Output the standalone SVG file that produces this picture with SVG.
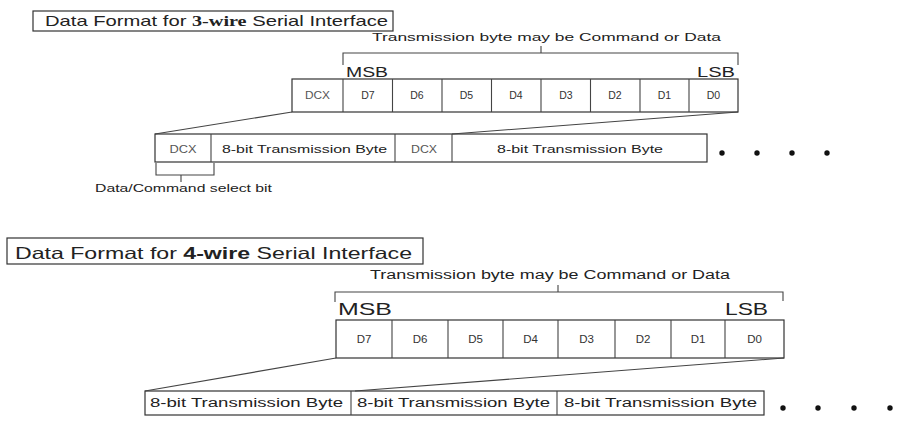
<svg xmlns="http://www.w3.org/2000/svg" width="908" height="423" viewBox="0 0 908 423">
<style>
text{font-family:"Liberation Sans",Arial,sans-serif;fill:#222}
.box{fill:#fff;stroke:#333;stroke-width:1.2}
.ln{fill:none;stroke:#444;stroke-width:1.1}
.c1{font-size:10.5px;text-anchor:middle;fill:#333}
.c1g{font-size:10px;text-anchor:middle;fill:#555}
.c2{font-size:11.5px;text-anchor:middle;fill:#333}
.dot{fill:#111}
</style>
<rect width="908" height="423" fill="#fff"/>

<!-- Section 1: 3-wire -->
<g id="title3">
<rect class="box" x="33" y="11" width="360" height="20"/>
<text x="45" y="26" font-size="14.5" textLength="343" lengthAdjust="spacingAndGlyphs">Data Format for <tspan font-family="'Liberation Serif','Times New Roman',serif" font-weight="bold">3-wire</tspan> Serial Interface</text>
</g>
<g id="brace3">
<text x="372" y="41" font-size="11.5" textLength="349" lengthAdjust="spacingAndGlyphs">Transmission byte may be Command or Data</text>
<path class="ln" d="M343,65 V53 H738 V65 M541,53 V46"/>
<text x="346" y="77" font-size="15" textLength="42" lengthAdjust="spacingAndGlyphs">MSB</text>
<text x="697" y="77" font-size="15" textLength="38" lengthAdjust="spacingAndGlyphs">LSB</text>
</g>
<g id="byte3">
<rect class="box" x="292" y="79" width="446" height="33"/>
<path class="ln" d="M343,79V112 M392.5,79V112 M442,79V112 M491.5,79V112 M541,79V112 M590.5,79V112 M640,79V112 M689,79V112"/>
<text class="c1g" x="317.5" y="99" textLength="25" lengthAdjust="spacingAndGlyphs">DCX</text>
<text class="c1" x="368" y="99">D7</text>
<text class="c1" x="417" y="99">D6</text>
<text class="c1" x="466.5" y="99">D5</text>
<text class="c1" x="516" y="99">D4</text>
<text class="c1" x="566" y="99">D3</text>
<text class="c1" x="615" y="99">D2</text>
<text class="c1" x="664.5" y="99">D1</text>
<text class="c1" x="713.5" y="99">D0</text>
</g>
<g id="stream3">
<rect class="box" x="155" y="134" width="552" height="28"/>
<path class="ln" d="M211,134V162 M395,134V162 M452,134V162"/>
<text class="c1g" x="183" y="153" textLength="27" lengthAdjust="spacingAndGlyphs">DCX</text>
<text x="222" y="153" font-size="10.5" textLength="165" lengthAdjust="spacingAndGlyphs">8-bit Transmission Byte</text>
<text class="c1g" x="424" y="153" textLength="26" lengthAdjust="spacingAndGlyphs">DCX</text>
<text x="497" y="153" font-size="10.5" textLength="166" lengthAdjust="spacingAndGlyphs">8-bit Transmission Byte</text>
<circle class="dot" cx="722" cy="153" r="2.7"/>
<circle class="dot" cx="757" cy="153" r="2.7"/>
<circle class="dot" cx="792" cy="153" r="2.7"/>
<circle class="dot" cx="827" cy="153" r="2.7"/>
</g>
<g id="dcxnote">
<path class="ln" d="M156,163V175H214V163 M181,175V182"/>
<text x="95" y="192" font-size="10.5" textLength="177" lengthAdjust="spacingAndGlyphs">Data/Command select bit</text>
</g>

<!-- Section 2: 4-wire -->
<g id="title4">
<rect class="box" x="7" y="238" width="416" height="26"/>
<text x="15" y="259" font-size="16.5" textLength="397" lengthAdjust="spacingAndGlyphs">Data Format for <tspan font-weight="bold">4-wire</tspan> Serial Interface</text>
</g>
<g id="brace4">
<text x="370" y="279" font-size="12.5" textLength="360" lengthAdjust="spacingAndGlyphs">Transmission byte may be Command or Data</text>
<path class="ln" d="M335,302 V292 H783 V301 M558,292 V285"/>
<text x="338" y="315" font-size="16.5" textLength="54" lengthAdjust="spacingAndGlyphs">MSB</text>
<text x="725" y="315" font-size="16.5" textLength="43" lengthAdjust="spacingAndGlyphs">LSB</text>
</g>
<g id="byte4">
<rect class="box" x="336" y="320" width="448" height="38"/>
<path class="ln" d="M392,320V358 M448,320V358 M503,320V358 M558,320V358 M615,320V358 M671,320V358 M725,320V358"/>
<text class="c2" x="364" y="343">D7</text>
<text class="c2" x="420" y="343">D6</text>
<text class="c2" x="475.5" y="343">D5</text>
<text class="c2" x="530.5" y="343">D4</text>
<text class="c2" x="586.5" y="343">D3</text>
<text class="c2" x="643" y="343">D2</text>
<text class="c2" x="698" y="343">D1</text>
<text class="c2" x="754.5" y="343">D0</text>
</g>
<g id="stream4">
<rect class="box" x="145" y="391" width="619" height="24"/>
<path class="ln" d="M351,391V415 M557,391V415"/>
<text x="150" y="407" font-size="12" textLength="193" lengthAdjust="spacingAndGlyphs">8-bit Transmission Byte</text>
<text x="357" y="407" font-size="12" textLength="193" lengthAdjust="spacingAndGlyphs">8-bit Transmission Byte</text>
<text x="564" y="407" font-size="12" textLength="193" lengthAdjust="spacingAndGlyphs">8-bit Transmission Byte</text>
<circle class="dot" cx="783" cy="408" r="2.7"/>
<circle class="dot" cx="818" cy="408" r="2.7"/>
<circle class="dot" cx="854" cy="408" r="2.7"/>
<circle class="dot" cx="890" cy="408" r="2.7"/>
</g>

<g id="connectors">
<path class="ln" d="M292,112 L155,134"/>
<path class="ln" d="M738,112 L452,134"/>
<path class="ln" d="M336,358 L145,391"/>
<path class="ln" d="M784,358 L355,391"/>
</g>
</svg>
